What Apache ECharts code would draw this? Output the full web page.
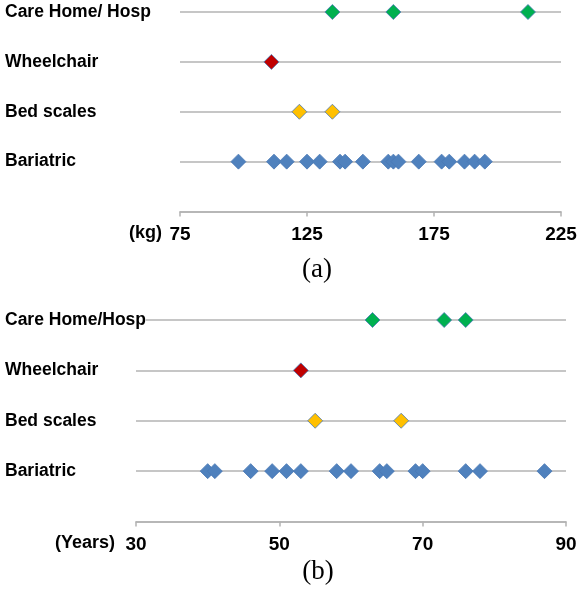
<!DOCTYPE html>
<html>
<head>
<meta charset="utf-8">
<script src="https://cdn.jsdelivr.net/npm/echarts@6/dist/echarts.min.js"></script>
<style>
html,body{margin:0;padding:0;background:#fff;}
#chart{width:580px;height:593px;}
</style>
</head>
<body>
<div id="chart"></div>
<script>
// Row categories (bottom to top)
const categoriesA = ['Bariatric', 'Bed scales', 'Wheelchair', 'Care Home/ Hosp'];
const categoriesB = ['Bariatric', 'Bed scales', 'Wheelchair', 'Care Home/Hosp'];

// Panel (a): weight (kg)
const kgTicks = [75, 125, 175, 225];
const weightBariatric = [98, 112, 117, 125, 130, 138, 140, 147, 157, 159, 161, 169, 178, 181, 187, 191, 195];
const weightBed = [122, 135];
const weightWheelchair = [111];
const weightCare = [135, 159, 212];

// Panel (b): age (years)
const ageTicks = [30, 50, 70, 90];
const ageBariatric = [40, 41, 46, 49, 51, 53, 58, 60, 64, 65, 69, 70, 76, 78, 87];
const ageBed = [55, 67];
const ageWheelchair = [53];
const ageCare = [63, 73, 76];

const unitNames = ['(kg)', '(Years)'];
const panelNames = ['(a)', '(b)'];

const colors = { Bariatric: '#4F81BD', Bed: '#FFC000', Wheelchair: '#C00000', Care: '#00B050' };

const chart = echarts.init(document.getElementById('chart'), null, { renderer: 'canvas' });

function pts(vals, row) { return vals.map(v => [v, row]); }

function scatter(vals, row, color, gi) {
  return {
    type: 'scatter',
    xAxisIndex: gi, yAxisIndex: gi,
    symbol: 'diamond',
    symbolSize: 15,
    data: pts(vals, row),
    itemStyle: { color: color, borderColor: '#4A78B5', borderWidth: 0.8, opacity: 1 },
    emphasis: { disabled: true },
    z: 3
  };
}

const lineColor = '#B3B3B3';
const font = 'Liberation Sans, Arial, sans-serif';
const serif = 'Liberation Serif, Times New Roman, serif';

function xAxis(gi, ticks) {
  return {
    type: 'value', gridIndex: gi,
    min: ticks[0], max: ticks[ticks.length - 1],
    interval: ticks[1] - ticks[0],
    axisLine: { show: true, lineStyle: { color: lineColor, width: 1.5 } },
    axisTick: { show: true, inside: false, length: 5, lineStyle: { color: lineColor, width: 1.5 } },
    splitLine: { show: false },
    axisLabel: { color: '#000', fontSize: 19, fontWeight: 'bold', fontFamily: font, margin: 14 }
  };
}

function yAxis(gi, cats, margin) {
  return {
    type: 'value', gridIndex: gi,
    min: 0, max: 4, interval: 1,
    axisLine: { show: false },
    axisTick: { show: false },
    splitLine: { show: true, lineStyle: { color: lineColor, width: 1.5 } },
    axisLabel: {
      color: '#000', fontSize: 17.5, fontWeight: 'bold', fontFamily: font,
      align: 'left', margin: margin,
      backgroundColor: '#fff',
      formatter: v => (v >= 1 && v <= 4 ? cats[v - 1] : '')
    }
  };
}

function unitText(text, x, y) {
  return { type: 'text', x: x, y: y, style: { text: text, fill: '#000', font: 'bold 18px ' + font, align: 'right', verticalAlign: 'middle' } };
}
function panelText(text, x, y) {
  return { type: 'text', x: x, y: y, style: { text: text, fill: '#000', font: '27px ' + serif, align: 'center', verticalAlign: 'middle' } };
}

const option = {
  backgroundColor: '#fff',
  animation: false,
  grid: [
    { left: 180, right: 19, top: 12, bottom: 381.5 },
    { left: 136, right: 14, top: 320, bottom: 71.5 }
  ],
  xAxis: [ xAxis(0, kgTicks), xAxis(1, ageTicks) ],
  yAxis: [ yAxis(0, categoriesA, 175), yAxis(1, categoriesB, 131) ],
  graphic: [
    unitText(unitNames[0], 162, 233),
    unitText(unitNames[1], 115, 543),
    panelText(panelNames[0], 317, 270),
    panelText(panelNames[1], 318, 572)
  ],
  series: [
    scatter(weightBariatric, 1, colors.Bariatric, 0),
    scatter(weightBed, 2, colors.Bed, 0),
    scatter(weightWheelchair, 3, colors.Wheelchair, 0),
    scatter(weightCare, 4, colors.Care, 0),
    scatter(ageBariatric, 1, colors.Bariatric, 1),
    scatter(ageBed, 2, colors.Bed, 1),
    scatter(ageWheelchair, 3, colors.Wheelchair, 1),
    scatter(ageCare, 4, colors.Care, 1)
  ]
};

chart.setOption(option);
</script>
</body>
</html>
